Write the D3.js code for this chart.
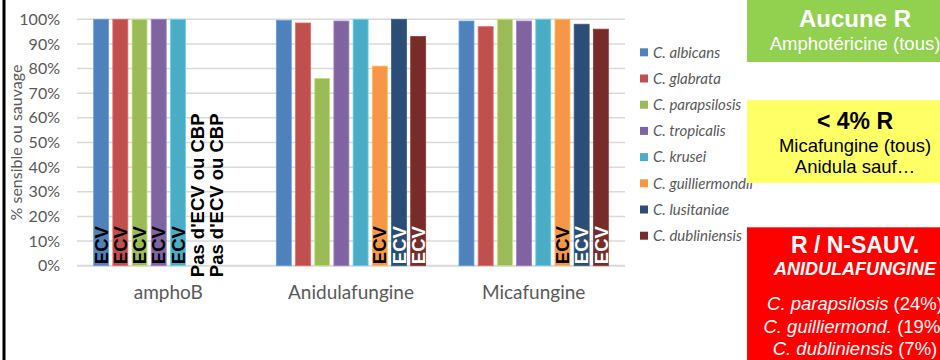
<!DOCTYPE html>
<html>
<head>
<meta charset="utf-8">
<script src="https://cdn.jsdelivr.net/npm/d3@7"></script>
<style>
  html, body { margin: 0; padding: 0; background: #fff; }
  svg { display: block; }
</style>
</head>
<body>
<div id="chart"></div>
<script>
// Antifungal classes (x categories)
const categories = ["amphoB", "Anidulafungine", "Micafungine"];

// Species (series), in legend order
const species = ["C. albicans", "C. glabrata", "C. parapsilosis", "C. tropicalis",
                 "C. krusei", "C. guilliermondii", "C. lusitaniae", "C. dubliniensis"];
const speciesColors = ["#4F81BD", "#C0504D", "#9BBB59", "#8064A2",
                       "#4BACC6", "#F79646", "#2C4D75", "#772C2A"];

// % sensible ou sauvage per species, one value per category (null = no breakpoint)
const albicans       = [100, 99.6, 99.3];
const glabrata       = [100, 98.5, 97.0];
const parapsilosis   = [100, 76, 100];
const tropicalis     = [100, 99.3, 99.3];
const krusei         = [100, 100, 100];
const guilliermondii = [null, 81, 100];
const lusitaniae     = [null, 100, 98.0];
const dubliniensis   = [null, 93, 96.0];
const seriesValues = [albicans, glabrata, parapsilosis, tropicalis,
                      krusei, guilliermondii, lusitaniae, dubliniensis];

// Text written at the base of each bar, per category
const labelsAmphoB = ["ECV", "ECV", "ECV", "ECV", "ECV", "Pas d'ECV ou CBP", "Pas d'ECV ou CBP", ""];
const labelsAnidula = ["", "", "", "", "", "ECV", "ECV", "ECV"];
const labelsMica = ["", "", "", "", "", "ECV", "ECV", "ECV"];
const barLabels = [labelsAmphoB, labelsAnidula, labelsMica];

// Y axis ticks
const yTicks = [0, 0.1, 0.2, 0.3, 0.4, 0.5, 0.6, 0.7, 0.8, 0.9, 1.0];

const W = 940, H = 360;
const svg = d3.select("#chart").append("svg")
  .attr("width", W).attr("height", H)
  .style("font-family", "Lato, 'Open Sans', sans-serif");

const plot = { left: 77, right: 625, top: 19.3, bottom: 265.7 };

const x0 = d3.scaleBand().domain(categories)
  .range([plot.left, plot.right]).paddingInner(0).paddingOuter(0);
const x1 = d3.scaleBand().domain(d3.range(species.length))
  .range([0, x0.bandwidth()]).paddingInner(0.22).paddingOuter(0.868);
const y = d3.scaleLinear().domain([0, 1]).range([plot.bottom, plot.top]);

// Frame line on the left edge
svg.append("line")
  .attr("x1", 4).attr("x2", 4).attr("y1", 0).attr("y2", H)
  .attr("stroke", "#000").attr("stroke-width", 3);

// Gridlines
svg.append("g").selectAll("line").data(yTicks).join("line")
  .attr("x1", plot.left).attr("x2", plot.right)
  .attr("y1", d => y(d)).attr("y2", d => y(d))
  .attr("stroke", "#d9d9d9").attr("stroke-width", d => d === 0 ? 2 : 1.5);

// Y axis (labels only)
const yAxis = svg.append("g")
  .attr("transform", `translate(${plot.left},0)`)
  .call(d3.axisLeft(y).tickValues(yTicks).tickFormat(d3.format(".0%")).tickSize(0).tickPadding(17));
yAxis.select(".domain").remove();
yAxis.selectAll("text")
  .attr("fill", "#595959")
  .style("font-family", "Lato, sans-serif")
  .style("font-size", "16px");

// Y axis title
svg.append("text")
  .attr("transform", "translate(22,142.5) rotate(-90)")
  .attr("text-anchor", "middle")
  .attr("fill", "#595959")
  .style("font-size", "16px")
  .text("% sensible ou sauvage");

// X axis category labels
const xAxis = svg.append("g")
  .attr("transform", `translate(0,${plot.bottom})`)
  .call(d3.axisBottom(x0).tickSize(0).tickPadding(20));
xAxis.select(".domain").remove();
xAxis.selectAll("text")
  .attr("fill", "#595959")
  .style("font-family", "Lato, sans-serif")
  .style("font-size", "19px");

// Bars
const barData = [];
categories.forEach((c, ci) => {
  species.forEach((s, si) => {
    barData.push({ cat: c, ci, si, value: seriesValues[si][ci], label: barLabels[ci][si] });
  });
});

svg.append("g").selectAll("rect").data(barData.filter(d => d.value != null)).join("rect")
  .attr("x", d => x0(d.cat) + x1(d.si))
  .attr("width", x1.bandwidth())
  .attr("y", d => y(d.value / 100))
  .attr("height", d => y(0) - y(d.value / 100))
  .attr("fill", d => speciesColors[d.si])
  .attr("stroke", d => d3.color(speciesColors[d.si]).brighter(0.6))
  .attr("stroke-width", 0.8);

// Bar base labels (rotated, reading upward); white on the dark bars
const darkSeries = new Set([6, 7]);
svg.append("g").selectAll("text").data(barData.filter(d => d.label)).join("text")
  .attr("transform", d => {
    const cx = x0(d.cat) + x1(d.si) + x1.bandwidth() / 2;
    const base = d.value == null ? y(0) + 11.5 : y(0) - 1.5;
    return `translate(${cx},${base}) rotate(-90)`;
  })
  .attr("dy", "0.36em")
  .attr("text-anchor", "start")
  .attr("fill", d => (d.value != null && darkSeries.has(d.si)) ? "#fff" : "#000")
  .style("font-family", "'Liberation Sans', Arial, sans-serif")
  .style("font-weight", "bold")
  .style("font-size", "18.5px")
  .text(d => d.label);

// Legend
const legend = svg.append("g").attr("transform", "translate(640,52.3)");
const legendItems = legend.selectAll("g").data(species).join("g")
  .attr("transform", (d, i) => `translate(0,${i * 26.2})`);
legendItems.append("rect")
  .attr("x", 0).attr("y", -4).attr("width", 8).attr("height", 8)
  .attr("fill", (d, i) => speciesColors[i]);
legendItems.append("text")
  .attr("x", 13).attr("y", 0).attr("dy", "0.35em")
  .attr("fill", "#595959")
  .style("font-style", "italic")
  .style("font-size", "15px")
  .text(d => d);

// Summary boxes on the right
const boxFont = "'Liberation Sans', Arial, sans-serif";
const boxCx = 855;
const boxes = [
  { y: -5, h: 67, fill: "#92D050", color: "#fff", lines: [
    { t: "Aucune R", y: 26.7, size: 24, weight: "bold" },
    { t: "Amphotéricine (tous)", y: 50, size: 18.5 } ] },
  { y: 100, h: 83, fill: "#FFFF66", color: "#000", lines: [
    { t: "< 4% R", y: 129, size: 23, weight: "bold" },
    { t: "Micafungine (tous)", y: 151.7, size: 18.5 },
    { t: "Anidula sauf…", y: 173.3, size: 18.5 } ] },
  { y: 227.3, h: 140, fill: "#FF0000", color: "#fff", lines: [
    { t: "R / N-SAUV.", y: 253.3, size: 23, weight: "bold" },
    { t: "ANIDULAFUNGINE", y: 275, size: 18, weight: "bold", style: "italic" },
    { parts: [["C. parapsilosis", true], [" (24%)", false]], y: 310, size: 18.5 },
    { parts: [["C. guilliermond.", true], [" (19%)", false]], y: 333.3, size: 18.5 },
    { parts: [["C. dubliniensis", true], [" (7%)", false]], y: 355, size: 18.5 } ] }
];

boxes.forEach(b => {
  const g = svg.append("g");
  g.append("rect").attr("x", 747).attr("y", b.y).attr("width", 220).attr("height", b.h)
    .attr("fill", b.fill);
  b.lines.forEach(l => {
    const t = g.append("text")
      .attr("x", boxCx).attr("y", l.y)
      .attr("text-anchor", "middle")
      .attr("fill", b.color)
      .style("font-family", boxFont)
      .style("font-size", l.size + "px")
      .style("font-weight", l.weight || "normal")
      .style("font-style", l.style || "normal");
    if (l.parts) {
      l.parts.forEach(([txt, it]) => t.append("tspan")
        .style("font-style", it ? "italic" : "normal").text(txt));
    } else {
      t.text(l.t);
    }
  });
});
</script>
</body>
</html>
